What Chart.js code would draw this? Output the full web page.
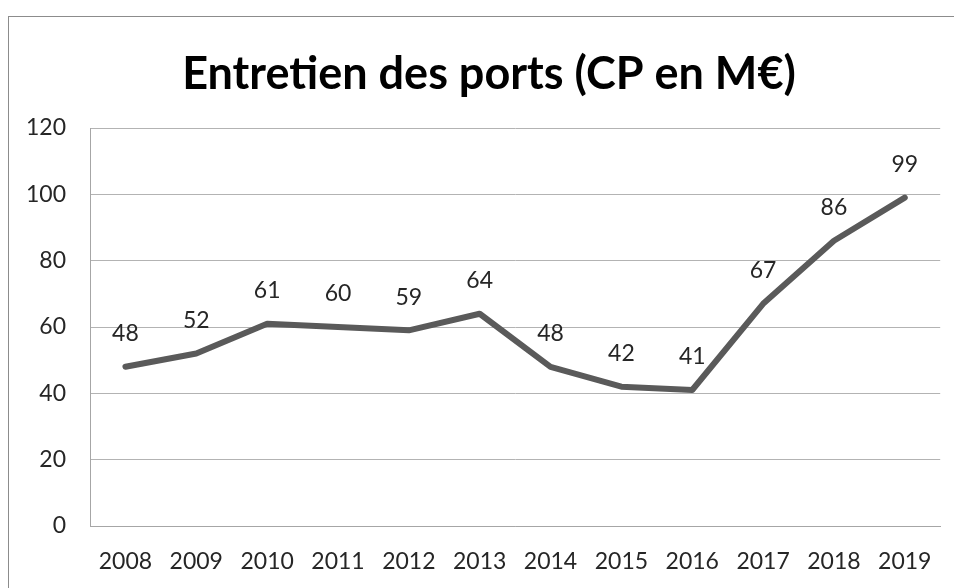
<!DOCTYPE html>
<html>
<head>
<meta charset="utf-8">
<script src="https://cdn.jsdelivr.net/npm/chart.js@4.4.1/dist/chart.umd.min.js"></script>
<style>
  html, body { margin: 0; padding: 0; background: #fff; overflow: hidden; }
  #frame { position: absolute; left: 8px; top: 16px; width: 1000px; height: 700px; border: 1px solid #8c8c8c; }
  #wrap { position: absolute; left: 0; top: 0; width: 954px; height: 588px; }
</style>
</head>
<body>
<div id="frame"></div>
<div id="wrap"><canvas id="chart"></canvas></div>
<script>
const years = ['2008', '2009', '2010', '2011', '2012', '2013', '2014', '2015', '2016', '2017', '2018', '2019'];
const creditsPaiement = [48, 52, 61, 60, 59, 64, 48, 42, 41, 67, 86, 99];
const chartTitle = 'Entretien des ports (CP en M€)';

// draws the value above each point
const valueLabels = {
    id: 'valueLabels',
    afterDatasetsDraw(chart) {
        const ctx = chart.ctx;
        const meta = chart.getDatasetMeta(0);
        ctx.save();
        ctx.font = '23px Lato';
        ctx.fillStyle = '#262626';
        ctx.textAlign = 'center';
        ctx.textBaseline = 'middle';
        meta.data.forEach((pt, i) => {
            ctx.fillText(String(creditsPaiement[i]), pt.x, pt.y - 33);
        });
        ctx.restore();
    }
};

const ctx = document.getElementById('chart').getContext('2d');
new Chart(ctx, {
    type: 'line',
    data: {
        labels: years,
        datasets: [{
            label: 'CP',
            data: creditsPaiement,
            borderColor: '#5a5a5a',
            borderWidth: 6,
            borderCapStyle: 'round',
            borderJoinStyle: 'round',
            pointRadius: 0,
            tension: 0
        }]
    },
    options: {
        responsive: true,
        maintainAspectRatio: false,
        animation: false,
        layout: { padding: { left: 24, right: 0, top: 0, bottom: 0 } },
        plugins: {
            legend: { display: false },
            tooltip: { enabled: false },
            title: {
                display: true,
                text: chartTitle,
                color: '#000',
                font: { family: 'Lato', size: 45, weight: 'bold' },
                padding: { top: 47, bottom: 27 }
            }
        },
        scales: {
            x: {
                offset: true,
                grid: { display: false, drawTicks: false },
                border: { display: true, color: '#a6a6a6', width: 1 },
                ticks: { color: '#262626', font: { family: 'Lato', size: 23 }, padding: 22, maxRotation: 0 },
                afterFit(scale) { scale.height = 62; }
            },
            y: {
                min: 0,
                max: 120,
                ticks: { stepSize: 20, color: '#262626', font: { family: 'Lato', size: 23 }, padding: 24 },
                grid: { color: '#b3b3b3', lineWidth: 1, drawTicks: false },
                border: { display: true, color: '#a6a6a6', width: 1 },
                afterFit(scale) { scale.width = 66; }
            },
            // empty right axis, only keeps a margin on the right of the plot
            yRight: {
                position: 'right',
                min: 0,
                max: 120,
                ticks: { display: false },
                grid: { display: false, drawTicks: false },
                border: { display: false },
                afterFit(scale) { scale.width = 13; }
            }
        }
    },
    plugins: [valueLabels]
});
</script>
</body>
</html>
